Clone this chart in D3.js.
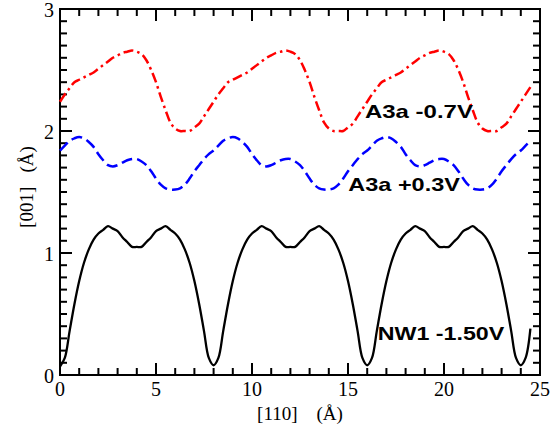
<!DOCTYPE html>
<html lang="en">
<head>
<meta charset="utf-8">
<script src="https://d3js.org/d3.v7.min.js"></script>
<style>
  body { margin: 0; background: #fff; }
  .serif { font-family: "Liberation Serif", "Times New Roman", serif; font-size: 20px; fill: #000; }
</style>
</head>
<body>
<script>
var width  = 558;
var height = 429;

// x positions of the profile samples, [110] direction (Angstrom)
var xGrid = [0, 0.25, 0.5, 0.75, 1, 1.25, 1.5, 1.75, 2, 2.25, 2.5, 2.75, 3, 3.25, 3.5, 3.75,
             4, 4.25, 4.5, 4.75, 5, 5.25, 5.5, 5.75, 6, 6.25, 6.5, 6.75, 7, 7.25, 7.5, 7.75,
             8, 8.25, 8.5, 8.75, 9, 9.25, 9.5, 9.75, 10, 10.25, 10.5, 10.75, 11, 11.25, 11.5, 11.75,
             12, 12.25, 12.5, 12.75, 13, 13.25, 13.5, 13.75, 14, 14.25, 14.5, 14.75, 15, 15.25, 15.5, 15.75,
             16, 16.25, 16.5, 16.75, 17, 17.25, 17.5, 17.75, 18, 18.25, 18.5, 18.75, 19, 19.25, 19.5, 19.75,
             20, 20.25, 20.5, 20.75, 21, 21.25, 21.5, 21.75, 22, 22.25, 22.5, 22.75, 23, 23.25, 23.5, 23.75,
             24, 24.25, 24.5];

// A3a -0.7V (red, dash-dot)
var redY = [2.24, 2.30, 2.35, 2.40, 2.42, 2.44, 2.46, 2.48, 2.51, 2.54, 2.57, 2.60, 2.62, 2.64, 2.65, 2.66,
            2.65, 2.63, 2.58, 2.50, 2.40, 2.28, 2.17, 2.07, 2.02, 2.00, 2.00, 2.00, 2.03, 2.06, 2.12, 2.18,
            2.24, 2.30, 2.35, 2.40, 2.42, 2.44, 2.46, 2.48, 2.51, 2.54, 2.57, 2.60, 2.62, 2.64, 2.65, 2.66,
            2.65, 2.63, 2.58, 2.50, 2.40, 2.28, 2.17, 2.07, 2.02, 2.00, 2.00, 2.00, 2.03, 2.06, 2.12, 2.18,
            2.24, 2.30, 2.35, 2.40, 2.42, 2.44, 2.46, 2.48, 2.51, 2.54, 2.57, 2.60, 2.62, 2.64, 2.65, 2.66,
            2.65, 2.63, 2.58, 2.50, 2.40, 2.28, 2.17, 2.07, 2.02, 2.00, 2.00, 2.00, 2.03, 2.06, 2.12, 2.18,
            2.24, 2.30, 2.36];

// A3a +0.3V (blue, dashed)
var blueY = [1.84, 1.88, 1.92, 1.94, 1.95, 1.94, 1.91, 1.87, 1.81, 1.76, 1.72, 1.71, 1.72, 1.74, 1.76, 1.77,
             1.77, 1.75, 1.72, 1.67, 1.61, 1.56, 1.53, 1.52, 1.52, 1.53, 1.56, 1.61, 1.67, 1.72, 1.77, 1.81,
             1.84, 1.88, 1.92, 1.94, 1.95, 1.94, 1.91, 1.87, 1.81, 1.76, 1.72, 1.71, 1.72, 1.74, 1.76, 1.77,
             1.77, 1.75, 1.72, 1.67, 1.61, 1.56, 1.53, 1.52, 1.52, 1.53, 1.56, 1.61, 1.67, 1.72, 1.77, 1.81,
             1.84, 1.88, 1.92, 1.94, 1.95, 1.94, 1.91, 1.87, 1.81, 1.76, 1.72, 1.71, 1.72, 1.74, 1.76, 1.77,
             1.77, 1.75, 1.72, 1.67, 1.61, 1.56, 1.53, 1.52, 1.52, 1.53, 1.56, 1.61, 1.67, 1.72, 1.77, 1.81,
             1.84, 1.88, 1.92];

// NW1 -1.50V (black, solid)
var blackY = [0.07, 0.14, 0.36, 0.58, 0.77, 0.92, 1.03, 1.11, 1.16, 1.19, 1.22, 1.20, 1.18, 1.13, 1.09, 1.05,
              1.05, 1.05, 1.09, 1.13, 1.18, 1.20, 1.22, 1.19, 1.16, 1.11, 1.03, 0.92, 0.77, 0.58, 0.36, 0.14,
              0.08, 0.14, 0.36, 0.58, 0.77, 0.92, 1.03, 1.11, 1.16, 1.19, 1.22, 1.20, 1.18, 1.13, 1.09, 1.05,
              1.05, 1.05, 1.09, 1.13, 1.18, 1.20, 1.22, 1.19, 1.16, 1.11, 1.03, 0.92, 0.77, 0.58, 0.36, 0.14,
              0.08, 0.14, 0.36, 0.58, 0.77, 0.92, 1.03, 1.11, 1.16, 1.19, 1.22, 1.20, 1.18, 1.13, 1.09, 1.05,
              1.05, 1.05, 1.09, 1.13, 1.18, 1.20, 1.22, 1.19, 1.16, 1.11, 1.03, 0.92, 0.77, 0.58, 0.36, 0.14,
              0.08, 0.14, 0.38];

var xMajor = [0, 5, 10, 15, 20, 25];
var xMinor = [1, 2, 3, 4, 6, 7, 8, 9, 11, 12, 13, 14, 16, 17, 18, 19, 21, 22, 23, 24];
var yMajor = [0, 1, 2, 3];
var yMinor = [0.1, 0.2, 0.3, 0.4, 0.5, 0.6, 0.7, 0.8, 0.9, 1.1, 1.2, 1.3, 1.4, 1.5, 1.6, 1.7, 1.8, 1.9,
              2.1, 2.2, 2.3, 2.4, 2.5, 2.6, 2.7, 2.8, 2.9];

var labelText = ["A3a -0.7V", "A3a +0.3V", "NW1 -1.50V"];

// plot frame
var plotLeft = 60, plotRight = 540, plotTop = 9, plotBottom = 375;
var majorLen = 12, minorLen = 7;

var x = d3.scaleLinear().domain([0, 25]).range([plotLeft, plotRight]);
var y = d3.scaleLinear().domain([0, 3]).range([plotBottom, plotTop]);

var svg = d3.select("body")
            .append("svg")
            .attr("width", width)
            .attr("height", height);

// tick marks on all four sides, pointing inward
var ticks = svg.append("g")
               .attr("stroke", "#000")
               .attr("stroke-width", 2);

function xTicks(vals, len) {
    ticks.append("g").selectAll("line").data(vals).enter().append("line")
         .attr("x1", function(d) { return x(d); }).attr("x2", function(d) { return x(d); })
         .attr("y1", plotBottom).attr("y2", plotBottom - len);
    ticks.append("g").selectAll("line").data(vals).enter().append("line")
         .attr("x1", function(d) { return x(d); }).attr("x2", function(d) { return x(d); })
         .attr("y1", plotTop).attr("y2", plotTop + len);
}
function yTicks(vals, len) {
    ticks.append("g").selectAll("line").data(vals).enter().append("line")
         .attr("y1", function(d) { return y(d); }).attr("y2", function(d) { return y(d); })
         .attr("x1", plotLeft).attr("x2", plotLeft + len);
    ticks.append("g").selectAll("line").data(vals).enter().append("line")
         .attr("y1", function(d) { return y(d); }).attr("y2", function(d) { return y(d); })
         .attr("x1", plotRight).attr("x2", plotRight - len);
}
xTicks(xMajor, majorLen);
xTicks(xMinor, minorLen);
yTicks(yMajor, majorLen);
yTicks(yMinor, minorLen);

svg.append("rect")
   .attr("x", plotLeft)
   .attr("y", plotTop)
   .attr("width", plotRight - plotLeft)
   .attr("height", plotBottom - plotTop)
   .attr("fill", "none")
   .attr("stroke", "#000")
   .attr("stroke-width", 2);

// tick labels
svg.append("g").attr("class", "serif")
   .selectAll("text").data(xMajor).enter().append("text")
   .attr("x", function(d) { return x(d); })
   .attr("y", plotBottom + 21)
   .attr("text-anchor", "middle")
   .text(function(d) { return d; });

svg.append("g").attr("class", "serif")
   .selectAll("text").data(yMajor).enter().append("text")
   .attr("x", plotLeft - 6)
   .attr("y", function(d) { return y(d) + 8; })
   .attr("text-anchor", "end")
   .text(function(d) { return d; });

// curves
var line = function(ys) {
    return d3.line()
             .x(function(d, i) { return x(xGrid[i]); })
             .y(function(d) { return y(d); })
             .curve(d3.curveCatmullRom)(ys);
};

svg.append("path")
   .attr("d", line(redY))
   .attr("fill", "none")
   .attr("stroke", "#ff0000")
   .attr("stroke-width", 2.5)
   .attr("stroke-dasharray", "10,4,2.5,4");

svg.append("path")
   .attr("d", line(blueY))
   .attr("fill", "none")
   .attr("stroke", "#0000ff")
   .attr("stroke-width", 2.5)
   .attr("stroke-dasharray", "11,5");

svg.append("path")
   .attr("d", line(blackY))
   .attr("fill", "none")
   .attr("stroke", "#000")
   .attr("stroke-width", 2.3);

// curve labels, placed in data units
var labelPos = [[15.88, 2.105, 108], [15.02, 1.51, 111.5], [16.55, 0.287, 126.5]];
svg.selectAll(".curve-label")
   .data(labelText)
   .enter()
   .append("text")
   .attr("class", "curve-label")
   .attr("x", function(d, i) { return x(labelPos[i][0]); })
   .attr("y", function(d, i) { return y(labelPos[i][1]); })
   .attr("textLength", function(d, i) { return labelPos[i][2]; })
   .attr("lengthAdjust", "spacingAndGlyphs")
   .style("font-family", "'Liberation Sans', Arial, sans-serif")
   .style("font-weight", "bold")
   .style("font-size", "18.5px")
   .text(function(d) { return d; });

// axis titles
svg.append("text")
   .attr("class", "serif")
   .attr("x", 300)
   .attr("y", 420)
   .attr("text-anchor", "middle")
   .style("font-size", "19px")
   .text("[110]\u00a0\u00a0\u00a0\u00a0(\u00c5)");

svg.append("text")
   .attr("class", "serif")
   .attr("transform", "translate(33,187) rotate(-90)")
   .attr("text-anchor", "middle")
   .style("font-size", "19px")
   .text("[001]\u00a0\u00a0\u00a0(\u00c5)");
</script>
</body>
</html>
